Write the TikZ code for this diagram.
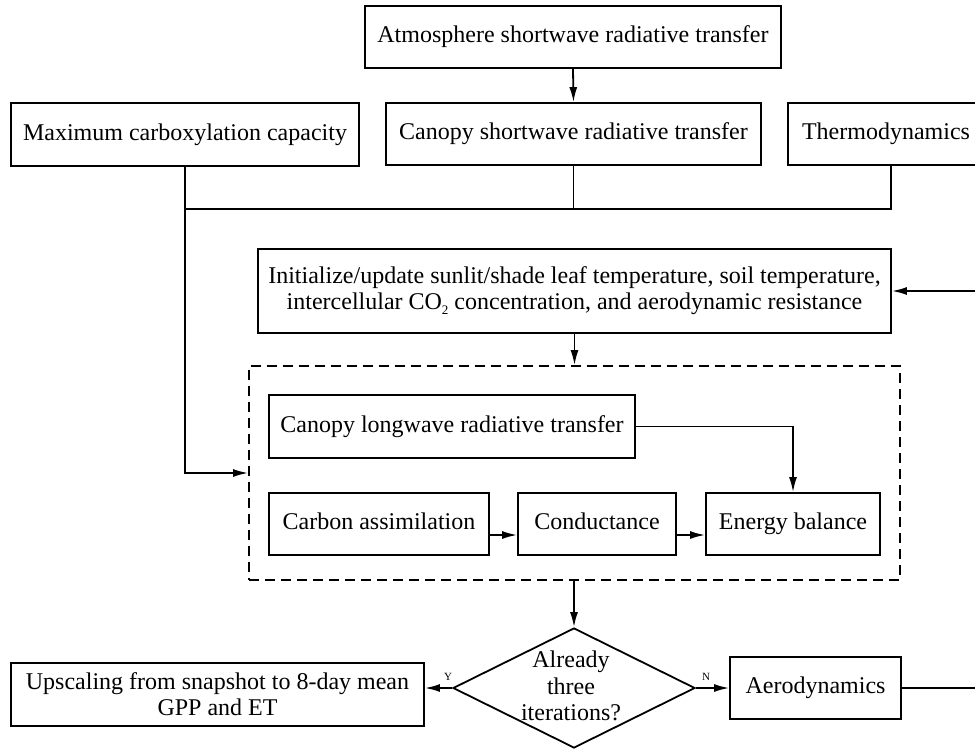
\documentclass[tikz,border=0pt]{standalone}
\usepackage{fontspec}
\setmainfont{Liberation Serif}
\usetikzlibrary{shapes.geometric,arrows.meta}
\begin{document}
\begin{tikzpicture}[x=1pt,y=-1pt,
  box/.style={draw, line width=1.8pt, inner sep=0pt, align=center, font=\fontsize{24}{26}\selectfont},
  box1/.style={box, text height=16pt, text depth=5pt},
  txt/.style={inner sep=0pt, align=center, font=\fontsize{24}{26.5}\selectfont},
  lbl/.style={inner sep=0pt, font=\fontsize{11}{12}\selectfont},
  conn/.style={line width=1.8pt},
  arr/.style={line width=1.8pt, -{Latex[length=15pt,width=8pt]}}]
\clip (0,0) rectangle (975,750);
\useasboundingbox (0,0) rectangle (975,750);
\fill[white] (0,0) rectangle (975,750);

% top row
\node[box1, minimum width=416pt, minimum height=62pt] (atm) at (573,37) {Atmosphere shortwave radiative transfer};
\node[box1, minimum width=348pt, minimum height=63pt] (maxc) at (185,134.5) {Maximum carboxylation capacity};
\node[box1, minimum width=375pt, minimum height=62pt] (csw) at (573.5,134) {Canopy shortwave radiative transfer};
\node[box1, minimum width=196pt, minimum height=62pt] (thermo) at (886,134) {Thermodynamics};

% initialize
\node[box, minimum width=633pt, minimum height=84pt] (init) at (574.5,291) {Initialize/update sunlit/shade leaf temperature, soil temperature,\\intercellular CO{\fontsize{13}{13}\selectfont\raisebox{-5pt}{2}} concentration, and aerodynamic resistance};

% dashed group
\node[draw, line width=1.8pt, dash pattern=on 10pt off 6pt, minimum width=651pt, minimum height=214pt, inner sep=0pt] (dbox) at (574.5,473) {};
\node[box1, minimum width=366pt, minimum height=63pt] (clw) at (452,426.5) {Canopy longwave radiative transfer};
\node[box1, minimum width=220pt, minimum height=62pt] (carb) at (379,524) {Carbon assimilation};
\node[box1, minimum width=158pt, minimum height=62pt] (cond) at (597,524) {Conductance};
\node[box1, minimum width=174pt, minimum height=62pt] (ener) at (793,524) {Energy balance};

% decision
\node[draw, line width=1.8pt, diamond, minimum width=242pt, minimum height=120pt, inner sep=0pt] (dia) at (574,688) {};
\node[txt] (diat) at (571,686) {Already\\three\\iterations?};
\node[box, minimum width=413pt, minimum height=63pt] (up) at (217.5,694.5) {Upscaling from snapshot to 8-day mean\\GPP and ET};
\node[box1, minimum width=171pt, minimum height=62pt] (aero) at (815.5,688) {Aerodynamics};
\node[lbl] (ylab) at (448,677) {Y};
\node[lbl] (nlab) at (706,677) {N};

% connectors
\coordinate (hl) at (0,209);
\coordinate (rr) at (984,0);
\draw[arr] (atm.south) -- (csw.north);
\draw[conn] (csw.south) -- (csw.south |- hl);
\draw[conn] (thermo.south -| 891,0) -- (891,209) -- (maxc.south |- hl);
\draw[arr] (maxc.south) |- (dbox.west);
\draw[arr] (init.south) -- (init.south |- dbox.north);
\draw[arr] (clw.east) -| (ener.north);
\draw[arr] ([yshift=-11pt]carb.east) -- ([yshift=-11pt]cond.west);
\draw[arr] ([yshift=-11pt]cond.east) -- ([yshift=-11pt]ener.west);
\draw[arr] (dbox.south -| dia.north) -- (dia.north);
\draw[arr] (dia.west) -- (dia.west -| up.east);
\draw[arr] (dia.east) -- (aero.west);
\draw[arr] (aero.east) -- (aero.east -| rr) -- (init.east -| rr) -- (init.east);
\end{tikzpicture}
\end{document}
